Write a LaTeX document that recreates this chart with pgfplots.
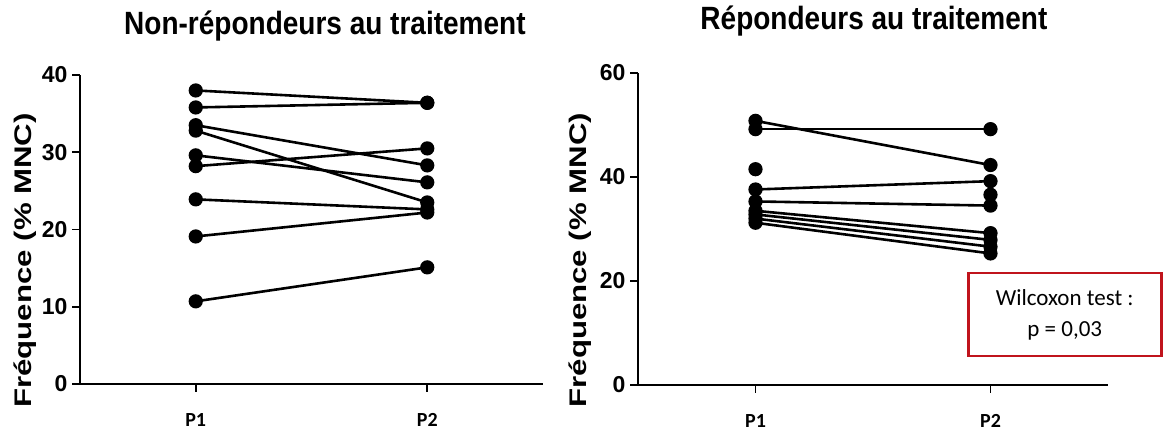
\documentclass[border=0pt]{standalone}
\usepackage{pgfplots}
\pgfplotsset{compat=1.18}
\usepackage{fontspec}
\setmainfont{Liberation Sans}
\newfontfamily\carlito{Carlito}
\definecolor{boxred}{RGB}{192,20,28}
\pgfplotsset{
  pair/.style={black, line width=2.6pt, mark=*, mark size=5.8pt, mark options={solid, fill=black}},
  panel/.style={
    scale only axis,
    anchor=south west,
    axis lines=left,
    axis line style={-, line width=2.6pt},
    tick align=outside,
    major tick length=8pt,
    tick style={line width=1.8pt, black},
    xmin=0.5, xmax=2.5,
    ymin=0,
    xtick={1,2},
    xticklabels={P1,P2},
    xticklabel style={font=\carlito\bfseries\fontsize{20}{20}\selectfont, anchor=base, yshift=-35pt},
    yticklabel style={font=\bfseries\fontsize{23}{23}\selectfont, xshift=-1pt},
    /pgf/number format/assume math mode=true,
    clip=false,
    ylabel={\scalebox{1.3}[1]{\bfseries\fontsize{24}{24}\selectfont Fréquence (\% MNC)}},
    title style={anchor=base, font=\bfseries\fontsize{28}{28}\selectfont},
  },
}
\begin{document}
\begin{tikzpicture}[x=1pt,y=1pt]
\useasboundingbox (0,0) rectangle (1163,435);
\begin{axis}[panel,
  at={(80pt,51pt)}, width=463pt, height=309pt,
  ymax=40, ytick={0,10,20,30,40},
  ylabel style={at={(axis description cs:-0.119,0.40)}, anchor=center, rotate=0},
  title={\scalebox{1}[1.15]{Non-répondeurs au traitement}},
  title style={at={(axis description cs:0.529,1.113)}},
]
\addplot[pair] coordinates {(1,38.0) (2,36.4)};
\addplot[pair] coordinates {(1,35.8) (2,36.4)};
\addplot[pair] coordinates {(1,33.5) (2,28.3)};
\addplot[pair] coordinates {(1,32.8) (2,23.5)};
\addplot[pair] coordinates {(1,29.6) (2,26.1)};
\addplot[pair] coordinates {(1,28.2) (2,30.5)};
\addplot[pair] coordinates {(1,23.9) (2,22.6)};
\addplot[pair] coordinates {(1,19.1) (2,22.2)};
\addplot[pair] coordinates {(1,10.7) (2,15.1)};
\end{axis}
\begin{axis}[panel,
  at={(638pt,50pt)}, width=470pt, height=312pt,
  ymax=60, ytick={0,20,40,60},
  ylabel style={at={(axis description cs:-0.123,0.40)}, anchor=center, rotate=0},
  title={\scalebox{1}[1.15]{Répondeurs au traitement}},
  title style={at={(axis description cs:0.502,1.119)}},
]
\addplot[pair] coordinates {(1,50.8) (2,42.3)};
\addplot[pair] coordinates {(1,49.2) (2,49.2)};
\addplot[pair] coordinates {(1,41.5)};
\addplot[pair] coordinates {(1,37.6) (2,39.2)};
\addplot[pair] coordinates {(1,35.3) (2,34.5)};
\addplot[pair] coordinates {(2,36.6)};
\addplot[pair] coordinates {(1,33.5) (2,29.2)};
\addplot[pair] coordinates {(1,32.8) (2,27.9)};
\addplot[pair] coordinates {(1,32.0) (2,26.6)};
\addplot[pair] coordinates {(1,31.2) (2,25.3)};
\node[draw=boxred, line width=2.5pt, fill=white, minimum width=193pt, minimum height=83pt,
      align=center, font=\carlito\fontsize{23}{31}\selectfont]
  at (axis description cs:0.908,0.226) {Wilcoxon test :\\ p = 0,03};
\end{axis}
\end{tikzpicture}
\end{document}
